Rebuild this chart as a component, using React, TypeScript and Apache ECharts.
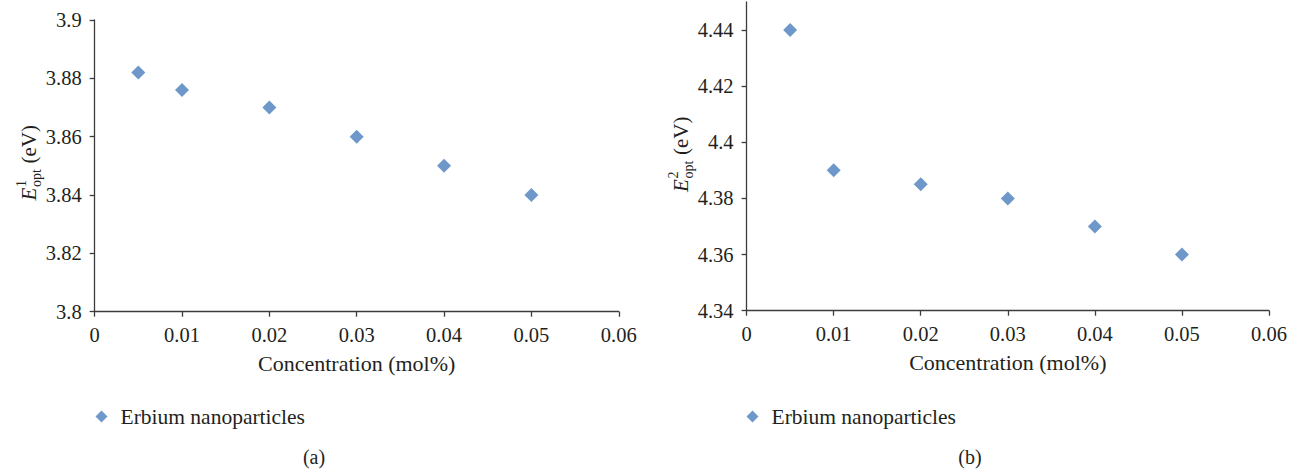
import React, { useEffect, useRef } from "react";
import * as echarts from "echarts";

const concentration = [0.005, 0.01, 0.02, 0.03, 0.04, 0.05];
const eopt1 = [3.882, 3.876, 3.87, 3.86, 3.85, 3.84];
const eopt2 = [4.44, 4.39, 4.385, 4.38, 4.37, 4.36];
const seriesName = "Erbium nanoparticles";
const xTitle = "Concentration (mol%)";
const yTicks2 = [4.34, 4.36, 4.38, 4.4, 4.42, 4.44];

const FONT = "Liberation Serif";
const TXT = "#231f20";
const AXIS = "#3c3c3c";
const MARK = "#4A7EBB";

const fmt = (v: number) => String(+Number(v).toFixed(4));

function yTitleGroup(x: number, y: number, sup: string) {
  return {
    type: "group",
    x,
    y,
    rotation: Math.PI / 2,
    children: [
      { type: "text", x: -41, y: 0, style: { text: "E", font: `italic 21px "${FONT}"`, fill: TXT, align: "left", verticalAlign: "middle" } },
      { type: "text", x: -27.5, y: -8, style: { text: sup, font: `14px "${FONT}"`, fill: TXT, align: "left", verticalAlign: "middle" } },
      { type: "text", x: -27.5, y: 7.5, style: { text: "opt", font: `14px "${FONT}"`, fill: TXT, align: "left", verticalAlign: "middle" } },
      { type: "text", x: -4, y: 0, style: { text: "(eV)", font: `21px "${FONT}"`, fill: TXT, align: "left", verticalAlign: "middle" } },
    ],
  };
}

export default function App() {
  const ref = useRef<HTMLDivElement>(null);
  useEffect(() => {
    if (!ref.current) return;
    const chart = echarts.init(ref.current, null, { renderer: "svg" });
    const labelStyle = { margin: 13, fontFamily: FONT, fontSize: 20.5, color: TXT, formatter: fmt };
    const xAxisBase = (gridIndex: number) => ({
      type: "value",
      gridIndex,
      min: 0,
      max: 0.06,
      interval: 0.01,
      name: xTitle,
      nameLocation: "middle",
      nameGap: 41,
      nameTextStyle: { fontFamily: FONT, fontSize: 22, color: TXT },
      axisLine: { show: true, onZero: false, lineStyle: { color: AXIS, width: 1.3 } },
      axisTick: { show: true, length: 5, lineStyle: { color: AXIS, width: 1.3 } },
      axisLabel: { ...labelStyle },
      splitLine: { show: false },
    });
    const yBase = {
      type: "value",
      axisLine: { show: true, onZero: false, lineStyle: { color: AXIS, width: 1.3 } },
      axisTick: { show: true, length: 5, lineStyle: { color: AXIS, width: 1.3 } },
      axisLabel: { ...labelStyle },
      splitLine: { show: false },
    };
    const legendBase = (left: number) => ({
      left,
      top: 400.5,
      icon: "diamond",
      itemWidth: 12,
      itemHeight: 12,
      data: [seriesName],
      textStyle: { fontFamily: FONT, fontSize: 21.5, color: TXT, padding: [0, 0, 0, 8] },
      selectedMode: false,
    });
    chart.setOption({
      animation: false,
      textStyle: { fontFamily: FONT },
      grid: [
        { left: 94.65, top: 20, width: 524.1, height: 291.7 },
        { left: 746.6, top: 1.9, width: 522.4, height: 308.8 },
      ],
      xAxis: [xAxisBase(0), xAxisBase(1)],
      yAxis: [
        { ...yBase, gridIndex: 0, min: 3.8, max: 3.9, interval: 0.02 },
        {
          ...yBase,
          gridIndex: 1,
          min: 4.34,
          max: 4.45,
          interval: 0.02,
          axisTick: { ...yBase.axisTick, customValues: yTicks2 },
          axisLabel: { ...labelStyle, customValues: yTicks2 },
        },
      ],
      legend: [legendBase(90.5), legendBase(741.5)],
      series: [
        {
          name: seriesName,
          type: "scatter",
          xAxisIndex: 0,
          yAxisIndex: 0,
          symbol: "diamond",
          symbolSize: 14,
          itemStyle: { color: MARK },
          data: concentration.map((c, i) => [c, eopt1[i]]),
        },
        {
          name: seriesName,
          type: "scatter",
          xAxisIndex: 1,
          yAxisIndex: 1,
          symbol: "diamond",
          symbolSize: 14,
          itemStyle: { color: MARK },
          data: concentration.map((c, i) => [c, eopt2[i]]),
        },
      ],
      graphic: [
        yTitleGroup(29, 159.5, "1"),
        yTitleGroup(681, 151, "2"),
        { type: "text", x: 314, y: 457, style: { text: "(a)", font: `20px "${FONT}"`, fill: TXT, align: "center", verticalAlign: "middle" } },
        { type: "text", x: 970, y: 457, style: { text: "(b)", font: `20px "${FONT}"`, fill: TXT, align: "center", verticalAlign: "middle" } },
      ],
    });
    return () => chart.dispose();
  }, []);
  return (
    <div
      ref={ref}
      style={{ position: "absolute", left: 0, top: 0, width: 1298, height: 470, background: "#fff" }}
    />
  );
}
